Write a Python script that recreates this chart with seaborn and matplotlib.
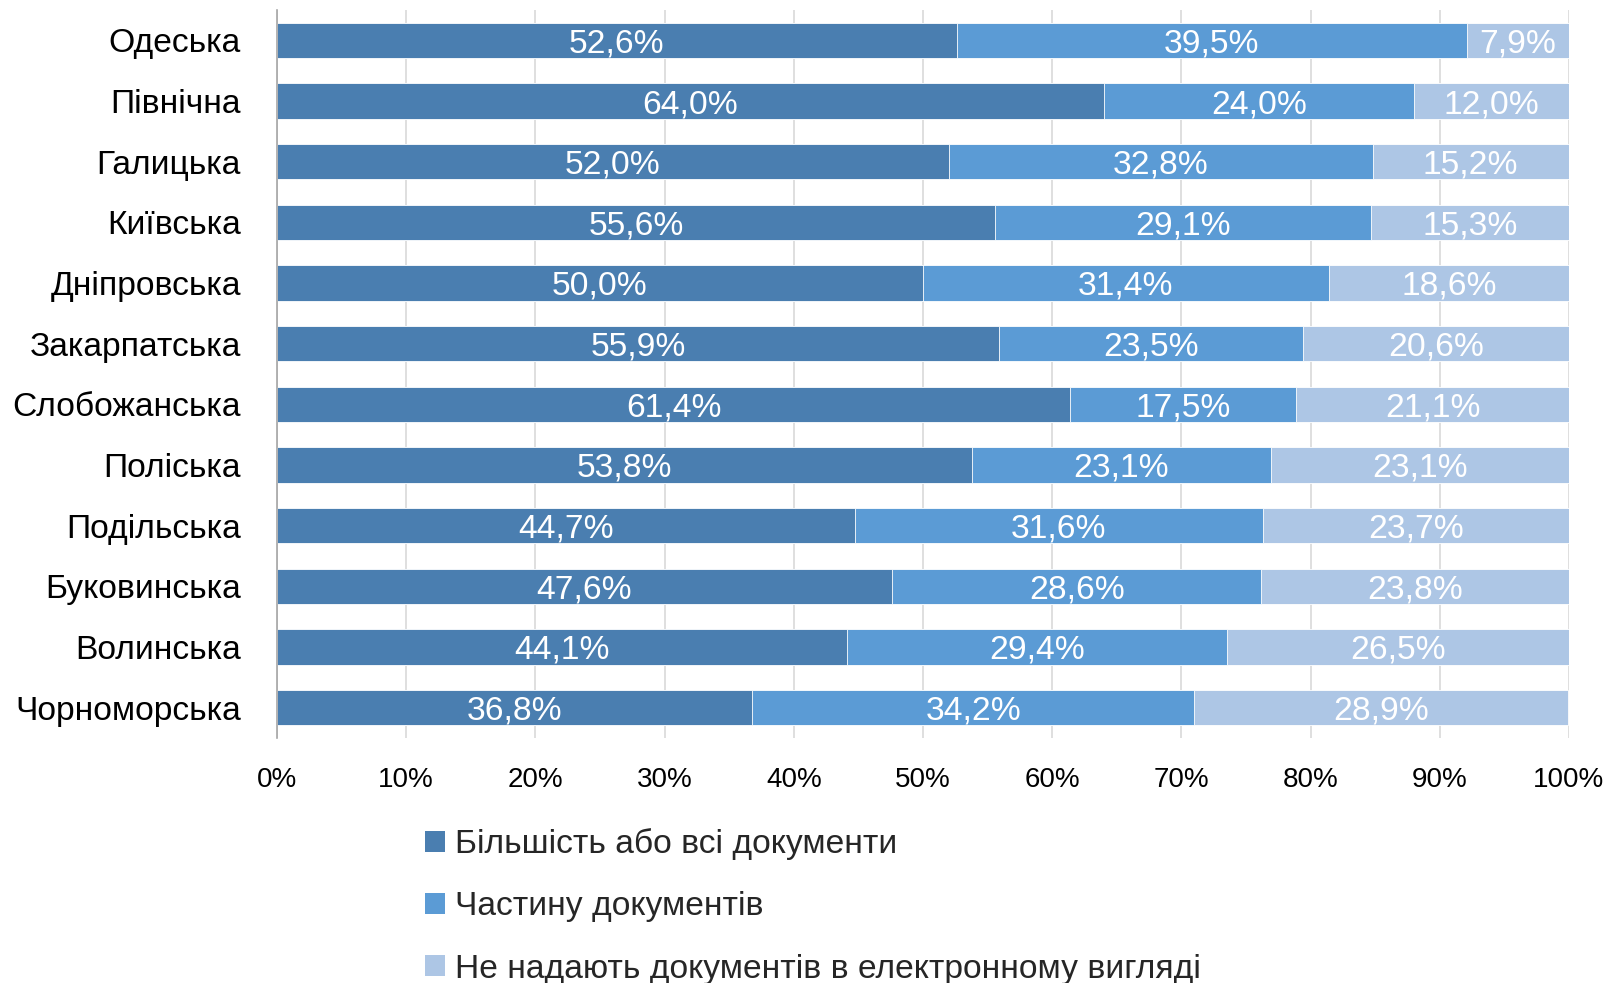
import matplotlib
matplotlib.use("Agg")
import matplotlib.pyplot as plt
import seaborn as sns
import pandas as pd
import numpy as np
from matplotlib.patches import Patch

regions = ["Одеська", "Північна", "Галицька", "Київська", "Дніпровська",
           "Закарпатська", "Слобожанська", "Поліська", "Подільська",
           "Буковинська", "Волинська", "Чорноморська"]
most_all = [52.6, 64.0, 52.0, 55.6, 50.0, 55.9, 61.4, 53.8, 44.7, 47.6, 44.1, 36.8]
partial = [39.5, 24.0, 32.8, 29.1, 31.4, 23.5, 17.5, 23.1, 31.6, 28.6, 29.4, 34.2]
none_el = [7.9, 12.0, 15.2, 15.3, 18.6, 20.6, 21.1, 23.1, 23.7, 23.8, 26.5, 28.9]
series_names = ["Більшість або всі документи", "Частину документів",
                "Не надають документів в електронному вигляді"]
colors = ["#4A7EB0", "#5B9BD5", "#ADC6E5"]

sns.set_theme(style="white")
plt.rcParams['font.family'] = ['Liberation Sans', 'DejaVu Sans']
FS = 24.2
FS_TICK = 20

df = pd.DataFrame({"region": regions, "a": most_all, "b": partial, "c": none_el})
df["ab"] = df["a"] + df["b"]
df["abc"] = df["ab"] + df["c"]

fig = plt.figure(figsize=(16.08, 9.83), dpi=100)
ax = fig.add_axes([0.1723, 0.2493, 0.9757 - 0.1723, 0.9898 - 0.2493])

for col, c in zip(["abc", "ab", "a"], colors[::-1]):
    sns.barplot(data=df, x=col, y="region", order=regions, orient="h",
                color=c, saturation=1, width=0.58, ax=ax,
                edgecolor="white", linewidth=0.6)

for i, r in df.iterrows():
    starts = [0, r["a"], r["ab"]]
    vals = [r["a"], r["b"], r["c"]]
    for s, v in zip(starts, vals):
        ax.text(s + v / 2, i, f"{v:.1f}%".replace(".", ","), ha="center",
                va="center_baseline", color="white", fontsize=FS)

ax.set_xlim(0, 100)
ax.set_ylim(len(regions) - 0.5, -0.5)
ax.set_xticks(np.arange(0, 101, 10))
ax.set_xticklabels([f"{t}%" for t in range(0, 101, 10)], fontsize=FS_TICK)
ax.tick_params(axis="x", pad=21, length=0)
ax.tick_params(axis="y", pad=26, length=0, labelsize=FS)
ax.set_xlabel("")
ax.set_ylabel("")
ax.set_axisbelow(True)
ax.grid(axis="x", color="#D9D9D9", linewidth=1.2)
ax.grid(axis="y", visible=False)
for s in ["top", "right", "bottom"]:
    ax.spines[s].set_visible(False)
ax.spines["left"].set_color("#A6A6A6")
ax.spines["left"].set_linewidth(1.2)
for lbl in ax.get_yticklabels():
    lbl.set_color("black")
    lbl.set_verticalalignment("center_baseline")
for lbl in ax.get_xticklabels():
    lbl.set_color("black")

handles = [Patch(facecolor=c, edgecolor="none") for c in colors]
fig.legend(handles, series_names, loc="center left",
           bbox_to_anchor=(0.2644, 0.078), frameon=False, fontsize=FS,
           handlelength=0.6, handleheight=0.6, handletextpad=0.3,
           labelspacing=0.93, borderaxespad=0, borderpad=0)

fig.savefig("out.png", dpi=100)
